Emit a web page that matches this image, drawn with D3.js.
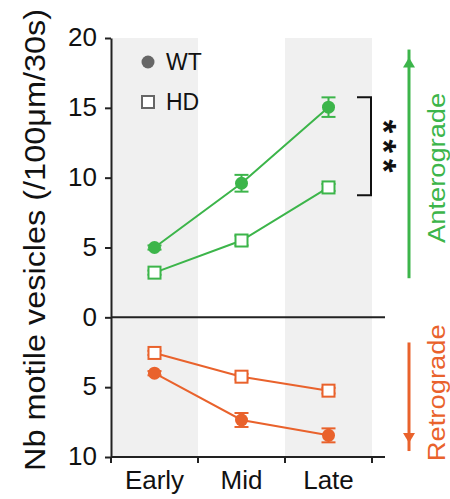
<!DOCTYPE html>
<html>
<head>
<meta charset="utf-8">
<script src="https://cdn.jsdelivr.net/npm/d3@7"></script>
<style>
body { margin: 0; background: #fff; }
text { font-family: Arial, "Liberation Sans", sans-serif; fill: #111; }
</style>
</head>
<body>
<div id="chart"></div>
<script>
/**** DATA ****/

// recording stages on the x axis
var stages = ["Early", "Mid", "Late"];
// anterograde vesicles (/100um/30s)
var antWT = [5.0, 9.6, 15.05];
var antWTErr = [0.15, 0.6, 0.7];
var antHD = [3.2, 5.5, 9.3];
var antHDErr = [0.15, 0.35, 0.25];
// retrograde vesicles, plotted below zero
var retWT = [4.0, 7.35, 8.45];
var retWTErr = [0.15, 0.5, 0.5];
var retHD = [2.55, 4.25, 5.25];
var retHDErr = [0.15, 0.2, 0.2];

var yTicks = [20, 15, 10, 5, 0, -5, -10];
var legendLabels = ["WT", "HD"];
var yTitle = "Nb motile vesicles (/100\u03bcm/30s)";

/**** SETUP ****/

var WIDTH = 450;
var HEIGHT = 499;
var GREEN = "#3cb54a";
var ORANGE = "#e9622c";
var SHADE = "#f0f0f0";
var INK = "#222";

var svg = d3.select("#chart")
    .append("svg")
    .attr("width", WIDTH)
    .attr("height", HEIGHT);

var x = d3.scaleBand().domain(stages).range([111, 372]);
var y = d3.scaleLinear().domain([-10, 20]).range([457, 38]);
var xEnd = 385;

// retrograde values are negated so they hang below the zero line
var series = [
    {values: antWT, errors: antWTErr, sign: 1, color: GREEN, shape: "circle"},
    {values: antHD, errors: antHDErr, sign: 1, color: GREEN, shape: "square"},
    {values: retWT, errors: retWTErr, sign: -1, color: ORANGE, shape: "circle"},
    {values: retHD, errors: retHDErr, sign: -1, color: ORANGE, shape: "square"}
];

function cx(i) {
    return x(stages[i]) + x.bandwidth() / 2;
}

/**** BACKGROUND ****/

// shade the first and last stage
svg.append("g").selectAll("rect")
    .data([stages[0], stages[2]])
    .enter()
    .append("rect")
    .attr("x", function(d) { return x(d); })
    .attr("y", y(20))
    .attr("width", x.bandwidth())
    .attr("height", y(-10) - y(20))
    .attr("fill", SHADE);

svg.append("line")
    .attr("x1", x.range()[0])
    .attr("x2", xEnd)
    .attr("y1", y(0))
    .attr("y2", y(0))
    .attr("stroke", INK)
    .attr("stroke-width", 2);

/**** SERIES ****/

var line = d3.line()
    .x(function(d, i) { return cx(i); })
    .y(function(d) { return y(d); });

series.forEach(function(s) {
    var vals = s.values.map(function(v) { return v * s.sign; });
    var g = svg.append("g");

    g.append("path")
        .attr("d", line(vals))
        .attr("fill", "none")
        .attr("stroke", s.color)
        .attr("stroke-width", 2);

    vals.forEach(function(v, i) {
        var e = s.errors[i];
        var px = cx(i);
        g.append("line")
            .attr("x1", px).attr("x2", px)
            .attr("y1", y(v - e)).attr("y2", y(v + e))
            .attr("stroke", s.color).attr("stroke-width", 2);
        [v - e, v + e].forEach(function(end) {
            g.append("line")
                .attr("x1", px - 7).attr("x2", px + 7)
                .attr("y1", y(end)).attr("y2", y(end))
                .attr("stroke", s.color).attr("stroke-width", 2);
        });

        if (s.shape === "circle") {
            g.append("circle")
                .attr("cx", px).attr("cy", y(v)).attr("r", 6.5)
                .attr("fill", s.color);
        } else {
            g.append("rect")
                .attr("x", px - 6).attr("y", y(v) - 6)
                .attr("width", 12).attr("height", 12)
                .attr("fill", "#fff")
                .attr("stroke", s.color).attr("stroke-width", 2);
        }
    });
});

/**** AXES ****/

var yAxis = svg.append("g")
    .attr("transform", "translate(" + x.range()[0] + ",0)")
    .call(d3.axisLeft(y)
        .tickValues(yTicks)
        .tickFormat(function(d) { return Math.abs(d); })
        .tickSize(6)
        .tickSizeOuter(0)
        .tickPadding(8));
yAxis.selectAll("text").attr("font-size", 26).attr("dy", "0.3em");

var xAxis = svg.append("g")
    .attr("transform", "translate(0," + y(-10) + ")")
    .call(d3.axisBottom(x).tickSize(0).tickPadding(14));
xAxis.select(".domain").remove();
xAxis.selectAll("text").attr("font-size", 26);

svg.append("line")
    .attr("x1", x.range()[0]).attr("x2", xEnd)
    .attr("y1", y(-10)).attr("y2", y(-10));

// boundary ticks between the stages
svg.append("g").selectAll("line")
    .data(stages.concat(["end"]))
    .enter()
    .append("line")
    .attr("x1", function(d, i) { return x.range()[0] + i * x.bandwidth(); })
    .attr("x2", function(d, i) { return x.range()[0] + i * x.bandwidth(); })
    .attr("y1", y(-10))
    .attr("y2", y(-10) + 6);

svg.selectAll(".domain, .tick line, line:not([stroke])")
    .attr("stroke", INK)
    .attr("stroke-width", 2);

svg.append("text")
    .attr("transform", "translate(45," + 240 + ") rotate(-90)")
    .attr("text-anchor", "middle")
    .attr("font-size", 30)
    .attr("textLength", 462)
    .attr("lengthAdjust", "spacingAndGlyphs")
    .text(yTitle);

/**** LEGEND ****/

var legend = svg.append("g").attr("transform", "translate(148,62)");
legend.append("circle").attr("r", 6.5).attr("fill", "#666");
legend.append("rect")
    .attr("x", -6).attr("y", 34).attr("width", 12).attr("height", 12)
    .attr("fill", "#fff").attr("stroke", "#666").attr("stroke-width", 2);
legend.selectAll("text.lab")
    .data(legendLabels)
    .enter()
    .append("text")
    .attr("class", "lab")
    .attr("x", 18)
    .attr("y", function(d, i) { return i * 40; })
    .attr("dy", "0.35em")
    .attr("font-size", 23)
    .text(function(d) { return d; });

/**** SIGNIFICANCE ****/

var bracketTop = y(antWT[2] + antWTErr[2]);
var bracketBottom = y(antHD[2] - antHDErr[2] - 0.3);
svg.append("path")
    .attr("d", "M357," + bracketTop + "H371V" + bracketBottom + "H357")
    .attr("fill", "none")
    .attr("stroke", "#111")
    .attr("stroke-width", 2);

// stars run down the side of the bracket
var mid = (bracketTop + bracketBottom) / 2;
svg.append("text")
    .attr("transform", "translate(372," + (mid + 3) + ") rotate(90)")
    .attr("text-anchor", "middle")
    .attr("font-size", 35)
    .attr("font-weight", "bold")
    .attr("letter-spacing", 6)
    .text("***");

/**** DIRECTION ARROWS ****/

function arrow(from, to, color, label, labelLength) {
    var dir = to > from ? 1 : -1;
    var y0 = y(from);
    var y1 = y(to);
    svg.append("line")
        .attr("x1", 409).attr("x2", 409)
        .attr("y1", y0).attr("y2", y1 - dir * 8)
        .attr("stroke", color).attr("stroke-width", 3);
    svg.append("path")
        .attr("d", "M409," + y1 + "L403," + (y1 + dir * 10) + "L415," + (y1 + dir * 10) + "Z")
        .attr("fill", color);
    svg.append("text")
        .attr("transform", "translate(445," + (y0 + y1) / 2 + ") rotate(-90)")
        .attr("text-anchor", "middle")
        .attr("font-size", 23)
        .attr("textLength", labelLength)
        .attr("lengthAdjust", "spacingAndGlyphs")
        .style("fill", color)
        .text(label);
}

arrow(2.8, 18.6, GREEN, "Anterograde", 150);
arrow(-1.8, -9.0, ORANGE, "Retrograde", 137);
</script>
</body>
</html>
